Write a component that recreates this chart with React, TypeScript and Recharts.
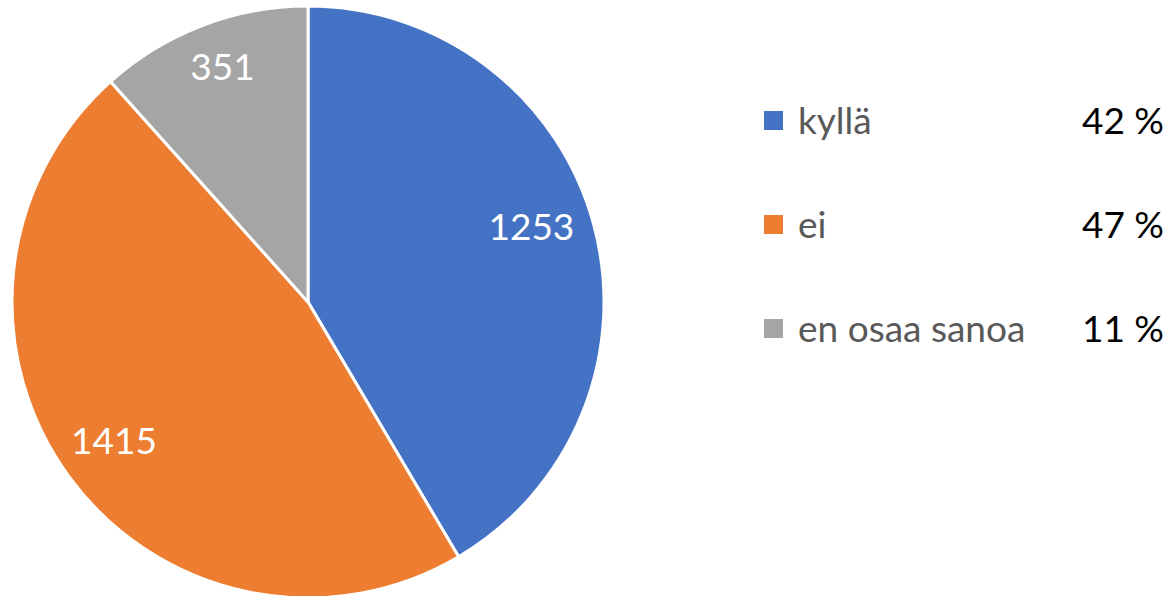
import { PieChart, Pie, Cell, Legend } from 'recharts';

const categories = ['kyllä', 'ei', 'en osaa sanoa'];
const counts = [1253, 1415, 351];
const percents = [42, 47, 11];

const COLORS = ['#4472C4', '#ED7D31', '#A5A5A5'];
// small nudges so the value labels sit where Excel put them
const LABEL_OFFSETS = [[-5, -14], [-3, -2], [-1, -15]];
const FONT = 'Lato, "Open Sans", sans-serif';

const data = categories.map((name, i) => ({ name, value: counts[i], percent: percents[i] }));

const RADIAN = Math.PI / 180;

const renderLabel = ({ cx, cy, midAngle, outerRadius, value, index }: any) => {
  const r = outerRadius * 0.8;
  const [dx, dy] = LABEL_OFFSETS[index] || [0, 0];
  const x = cx + r * Math.cos(-midAngle * RADIAN) + dx;
  const y = cy + r * Math.sin(-midAngle * RADIAN) + dy;
  return (
    <text x={x} y={y} fill="#FFFFFF" fontSize={37} fontFamily={FONT} textAnchor="middle" dominantBaseline="central">
      {value}
    </text>
  );
};

const renderLegend = () => (
  <div style={{ position: 'relative', width: 429, height: 400, fontFamily: FONT }}>
    {data.map((entry, index) => (
      <div
        key={entry.name}
        style={{ position: 'absolute', left: 0, top: 68 + index * 104, width: 424, height: 104, display: 'flex', alignItems: 'center' }}
      >
        <div style={{ marginLeft: 24, width: 19, height: 19, backgroundColor: COLORS[index] }} />
        <span style={{ marginLeft: 15, fontSize: 37, color: '#595959', lineHeight: '104px' }}>{entry.name}</span>
        <span style={{ marginLeft: 'auto', fontSize: 37, color: '#000000', lineHeight: '104px' }}>{entry.percent} %</span>
      </div>
    ))}
  </div>
);

export default function App() {
  return (
    <div style={{ position: 'absolute', left: 0, top: 0, width: 1169, height: 596, background: '#FFFFFF' }}>
      <PieChart width={1169} height={596} margin={{ top: 0, right: 0, bottom: 0, left: 0 }}>
        <Pie
          data={data}
          dataKey="value"
          nameKey="name"
          cx={308}
          cy={302}
          outerRadius={296}
          startAngle={90}
          endAngle={-270}
          stroke="#FFFFFF"
          strokeWidth={3}
          label={renderLabel}
          labelLine={false}
          isAnimationActive={false}
        >
          {data.map((entry, index) => (
            <Cell key={`cell-${index}`} fill={COLORS[index]} />
          ))}
        </Pie>
        <Legend content={renderLegend} wrapperStyle={{ left: 740, top: 0, width: 429 }} />
      </PieChart>
    </div>
  );
}
